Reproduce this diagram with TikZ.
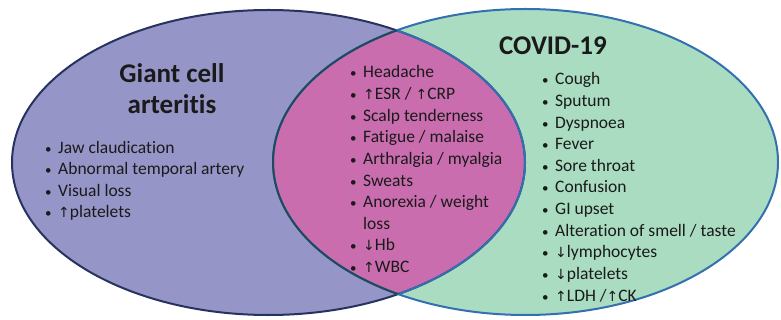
\documentclass[tikz,border=0pt]{standalone}
\usepackage{fontspec}
\setmainfont{Carlito}[RawFeature=-liga]
\newfontfamily\arrowfont{DejaVu Sans}
\definecolor{gcafill}{HTML}{9695C8}
\definecolor{covfill}{HTML}{A9DCC1}
\definecolor{lensfill}{HTML}{C96DAF}
\definecolor{gcaline}{HTML}{27335F}
\definecolor{covline}{HTML}{3270B0}
\definecolor{lensline}{HTML}{1E4A5C}
\definecolor{txt}{HTML}{1A1A1A}
\newcommand{\up}{{\arrowfont\fontsize{14}{14}\selectfont ↑}}
\newcommand{\dn}{{\arrowfont\fontsize{14}{14}\selectfont ↓}}
\newcommand{\itm}[1]{\makebox[13pt][l]{\fontsize{13}{13}\selectfont •}#1}
\newcommand{\cont}[1]{\hspace*{13pt}#1}
\tikzset{
  title/.style={font=\bfseries\fontsize{27}{31}\selectfont, text=txt, align=center, inner sep=0pt},
  listbox/.style={font=\fontsize{17.5}{21.6}\selectfont, text=txt, align=left, inner sep=0pt, anchor=base west},
}
\begin{document}
\begin{tikzpicture}[x=1pt,y=-1pt]
\useasboundingbox (0,0) rectangle (781,320);
\coordinate (gc) at (268.5,162.5);
\coordinate (cv) at (525.5,162);
% fills
\fill[gcafill] (gc) ellipse [x radius=256.5pt, y radius=152.5pt];
\fill[covfill] (cv) ellipse [x radius=252.5pt, y radius=153pt];
\begin{scope}
  \clip (gc) ellipse [x radius=256.5pt, y radius=152.5pt];
  \fill[lensfill] (cv) ellipse [x radius=252.5pt, y radius=153pt];
\end{scope}
% borders
\draw[gcaline, line width=2pt] (gc) ellipse [x radius=256.5pt, y radius=152.5pt];
\draw[covline, line width=2pt] (cv) ellipse [x radius=252.5pt, y radius=153pt];
\begin{scope}
  \clip (cv) ellipse [x radius=252.5pt, y radius=153pt];
  \draw[covline, line width=2pt] (gc) ellipse [x radius=256.5pt, y radius=152.5pt];
\end{scope}
\begin{scope}
  \clip (gc) ellipse [x radius=256.5pt, y radius=152.5pt];
  \draw[lensline, line width=2pt] (cv) ellipse [x radius=252.5pt, y radius=153pt];
\end{scope}
% titles (anchor = baseline of last line)
\node[title, anchor=base] (gcatitle) at (172,114) {Giant cell\\arteritis};
\node[title, anchor=base] (covtitle) at (553,55) {COVID-19};
% lists (anchor = baseline of last line)
\node[listbox] (gcalist) at (45,218) {%
\itm{Jaw claudication}\\
\itm{Abnormal temporal artery}\\
\itm{Visual loss}\\
\itm{\up platelets}};
\node[listbox] (shared) at (350,272.4) {%
\itm{Headache}\\
\itm{\up ESR / \up CRP}\\
\itm{Scalp tenderness}\\
\itm{Fatigue / malaise}\\
\itm{Arthralgia / myalgia}\\
\itm{Sweats}\\
\itm{Anorexia / weight}\\
\cont{loss}\\
\itm{\dn Hb}\\
\itm{\up WBC}};
\node[listbox] (covlist) at (542,301) {%
\itm{Cough}\\
\itm{Sputum}\\
\itm{Dyspnoea}\\
\itm{Fever}\\
\itm{Sore throat}\\
\itm{Confusion}\\
\itm{GI upset}\\
\itm{Alteration of smell / taste}\\
\itm{\dn lymphocytes}\\
\itm{\dn platelets}\\
\itm{\up LDH /\up CK}};
\end{tikzpicture}
\end{document}
